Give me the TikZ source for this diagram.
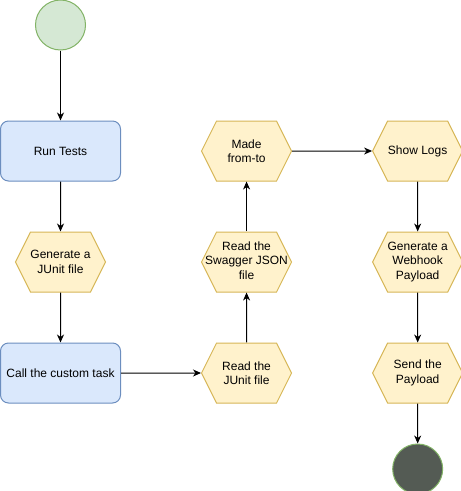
\documentclass[tikz,border=0pt]{standalone}
\usepackage{fontspec}
\setmainfont{Liberation Sans}
\usetikzlibrary{shapes.symbols, arrows.meta, positioning}
\definecolor{startfill}{HTML}{D5E8D4}
\definecolor{startline}{HTML}{82B366}
\definecolor{endfill}{HTML}{545B54}
\definecolor{procfill}{HTML}{DAE8FC}
\definecolor{procline}{HTML}{6C8EBF}
\definecolor{hexfill}{HTML}{FFF2CC}
\definecolor{hexline}{HTML}{D6B656}
% text that may run past the hexagon's inner box
\newcommand{\squeezed}[1]{\makebox[0pt]{\begin{tabular}{@{}c@{}}#1\end{tabular}}}

\begin{document}
\begin{tikzpicture}[x=1pt, y=1pt, line width=1pt, >={Stealth[length=8pt, width=7pt, inset=2.5pt]},
    font=\fontsize{12}{14.4}\selectfont,
    startdot/.style={circle, draw=startline, fill=startfill, minimum size=50pt, inner sep=0pt},
    enddot/.style={circle, draw=startline, fill=endfill, minimum size=50pt, inner sep=0pt},
    proc/.style={draw=procline, fill=procfill, rounded corners=8pt, minimum width=120pt, minimum height=60pt, inner sep=0pt},
    hexa/.style={shape=signal, signal to=west and east, signal pointer angle=126.87, draw=hexline, fill=hexfill,
        minimum width=90pt, minimum height=60pt, inner sep=0pt, align=center}]
    \useasboundingbox (0,0) rectangle (461,-491);
    \node[startdot] (start) at (60.5,-25) {};
    \node[proc, below=70pt of start] (runtests) {Run Tests};
    \node[hexa, below=50pt of runtests] (genjunit) {Generate a\\JUnit file};
    \node[proc, below=50pt of genjunit] (calltask) {Call the custom task};
    \node[hexa, right=80pt of calltask] (readjunit) {Read the\\JUnit file};
    \node[hexa, above=50pt of readjunit] (readswagger) {\squeezed{Read the\\Swagger JSON\\file}};
    \node[hexa, above=50pt of readswagger] (fromto) {Made\\from-to};
    \node[hexa, right=80pt of fromto] (showlogs) {Show Logs};
    \node[hexa, below=50pt of showlogs] (webhook) {Generate a\\Webhook\\Payload};
    \node[hexa, below=50pt of webhook] (sendpay) {Send the\\Payload};
    \node[enddot, below=40pt of sendpay] (stop) {};

    \draw[->] (start) -- (runtests);
    \draw[->] (runtests) -- (genjunit);
    \draw[->] (genjunit) -- (calltask);
    \draw[->] (calltask) -- (readjunit);
    \draw[->] (readjunit) -- (readswagger);
    \draw[->] (readswagger) -- (fromto);
    \draw[->] (fromto) -- (showlogs);
    \draw[->] (showlogs) -- (webhook);
    \draw[->] (webhook) -- (sendpay);
    \draw[->] (sendpay) -- (stop);
\end{tikzpicture}
\end{document}
